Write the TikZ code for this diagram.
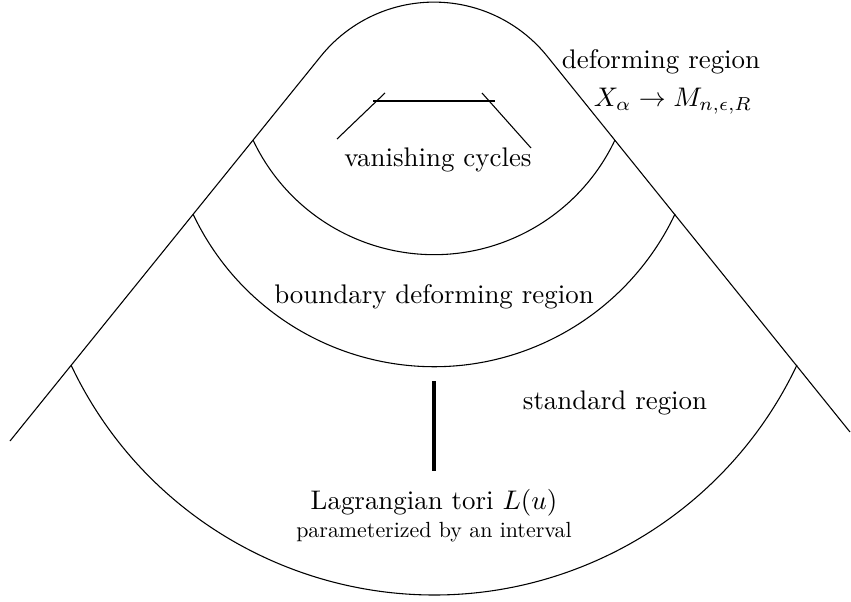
\documentclass[tikz,border=0pt]{standalone}
\begin{document}
\begin{tikzpicture}[x=0.3717pt,y=-0.3717pt,line width=0.4pt,
  lbl/.style={inner sep=0pt,align=center},
  small lbl/.style={inner sep=0pt,align=center,scale=0.815}]
\useasboundingbox (0,0) rectangle (851,602);
% outline
\coordinate (LE) at (10,441);
\coordinate (LT) at (321,56);
\coordinate (RE) at (850,432);
\draw (LE) -- (LT) arc[start angle=219,end angle=321,radius=145.4] -- (RE);
% region arcs
\coordinate (A1) at (253,140);
\coordinate (A2) at (193,214);
\coordinate (A3) at (71,365);
\draw (A1) arc[start angle=154.7,end angle=25.3,radius=200.2];
\draw (A2) arc[start angle=154.7,end angle=25.3,radius=266.6];
\draw (A3) arc[start angle=154.7,end angle=25.3,radius=401.5];
% vanishing cycles symbol
\coordinate (h1) at (373,101); \coordinate (h2) at (495,101);
\coordinate (l1) at (385,93);  \coordinate (l2) at (337,139);
\coordinate (r1) at (482,93);  \coordinate (r2) at (531,148);
\draw (h1) -- (h2);
\draw (l1) -- (l2);
\draw (r1) -- (r2);
% interval
\coordinate (I1) at (434,381); \coordinate (I2) at (434,471);
\draw[line width=1.2pt] (I1) -- (I2);
% labels
\node[lbl] (def1) at (661,62) {deforming region};
\node[lbl] (def2) at (673,101) {$X_\alpha\to M_{n,\epsilon,R}$};
\node[lbl] (van) at (438,160) {vanishing cycles};
\node[lbl] (bdr) at (434,297) {boundary deforming region};
\node[lbl] (std) at (615,403) {standard region};
\node[lbl] (lag1) at (434,503) {Lagrangian tori $L(u)$};
\node[small lbl] (lag2) at (434,532) {parameterized by an interval};
\end{tikzpicture}
\end{document}
